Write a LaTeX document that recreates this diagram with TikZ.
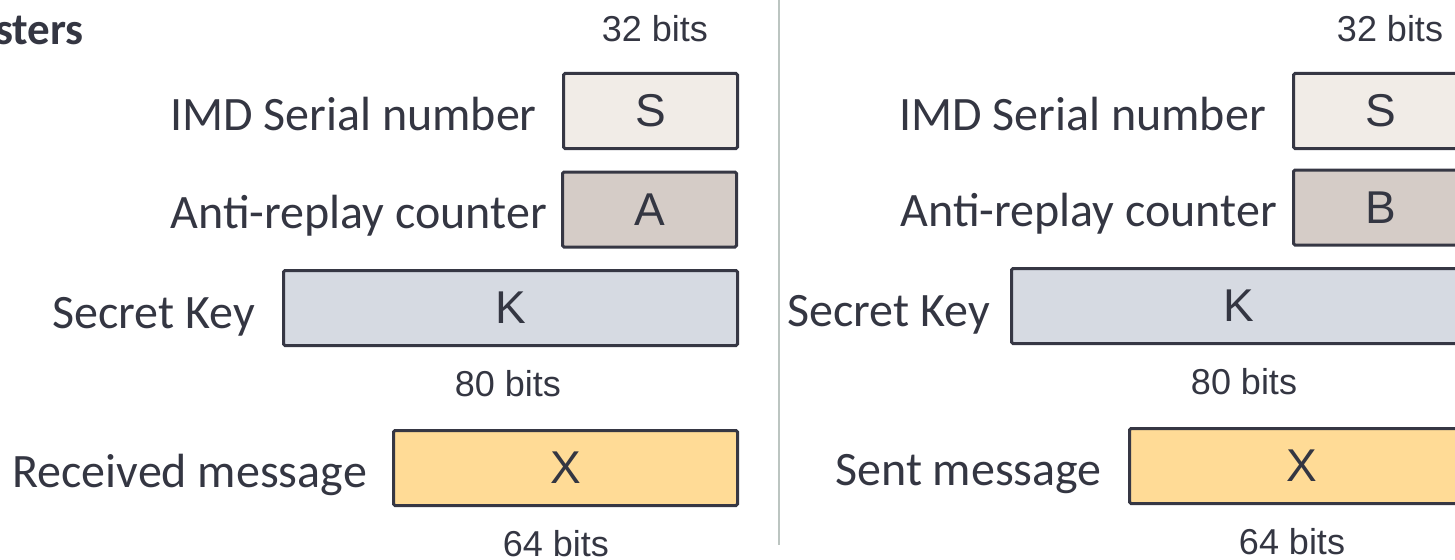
\documentclass[tikz,border=0pt]{standalone}
\usepackage{fontspec}
\setmainfont{Carlito}
\newfontfamily\bitsfont{Liberation Sans}
\definecolor{ink}{HTML}{343642}
\definecolor{edge}{HTML}{363744}
\definecolor{serialfill}{HTML}{F1ECE7}
\definecolor{counterfill}{HTML}{D5CCC7}
\definecolor{keyfill}{HTML}{D6DAE2}
\definecolor{msgfill}{HTML}{FFDB96}
\definecolor{divider}{HTML}{BCC5C1}
\tikzset{
  regbox/.style={draw=edge, line width=3pt, rounded corners=1.5pt, inner sep=0pt,
    text=ink, font=\bitsfont\fontsize{46}{50}\selectfont},
  fieldlabel/.style={anchor=base east, inner sep=0pt, text=ink,
    font=\fontsize{48}{56}\selectfont},
  bitslabel/.style={anchor=base, inner sep=0pt, text=ink,
    font=\bitsfont\fontsize{36}{40}\selectfont},
  headlabel/.style={anchor=base east, inner sep=0pt, text=ink,
    font=\bfseries\fontsize{45}{52}\selectfont},
}
\begin{document}
\begin{tikzpicture}[x=1pt,y=-1pt]
\useasboundingbox (0,0) rectangle (1455,559);
\clip (0,0) rectangle (1455,559);

% separator between the two register sets
\coordinate (divtop) at (779,0);
\coordinate (divbot) at (779,545);
\draw[divider, line width=2pt] (divtop) -- (divbot);

% ---- receiving side ----
\node[headlabel] (head) at (84,45) {sters};
\node[bitslabel] (lbits32) at (655,42) {32 bits};

\node[regbox, fill=serialfill, minimum width=174pt, minimum height=75pt] (lS) at (650.5,111) {S};
\node[fieldlabel] (lSlab) at (537,131) {IMD Serial number};

\node[regbox, fill=counterfill, minimum width=174pt, minimum height=75pt] (lA) at (649.5,209.5) {A};
\node[fieldlabel] (lAlab) at (547,228) {Anti-replay counter};

\node[regbox, fill=keyfill, minimum width=454pt, minimum height=75pt] (lK) at (510.5,308) {K};
\node[fieldlabel] (lKlab) at (255,328) {Secret Key};
\node[bitslabel] (lbits80) at (508,396) {80 bits};

\node[regbox, fill=msgfill, minimum width=344pt, minimum height=75pt] (lX) at (565.5,468) {X};
\node[fieldlabel] (lXlab) at (367,487) {Received message};
\node[bitslabel] (lbits64) at (556,556) {64 bits};

% ---- sending side ----
\node[bitslabel] (rbits32) at (1390,42) {32 bits};

\node[regbox, fill=serialfill, minimum width=174pt, minimum height=75pt] (rS) at (1380.5,111) {S};
\node[fieldlabel] (rSlab) at (1266,131) {IMD Serial number};

\node[regbox, fill=counterfill, minimum width=174pt, minimum height=75pt] (rB) at (1380.5,207.5) {B};
\node[fieldlabel] (rBlab) at (1277,226) {Anti-replay counter};

\node[regbox, fill=keyfill, minimum width=454pt, minimum height=75pt] (rK) at (1238.5,306) {K};
\node[fieldlabel] (rKlab) at (990,326) {Secret Key};
\node[bitslabel] (rbits80) at (1244,394) {80 bits};

\node[regbox, fill=msgfill, minimum width=344pt, minimum height=75pt] (rX) at (1301.5,466) {X};
\node[fieldlabel] (rXlab) at (1102,485) {Sent message};
\node[bitslabel] (rbits64) at (1292,554) {64 bits};
\end{tikzpicture}
\end{document}
